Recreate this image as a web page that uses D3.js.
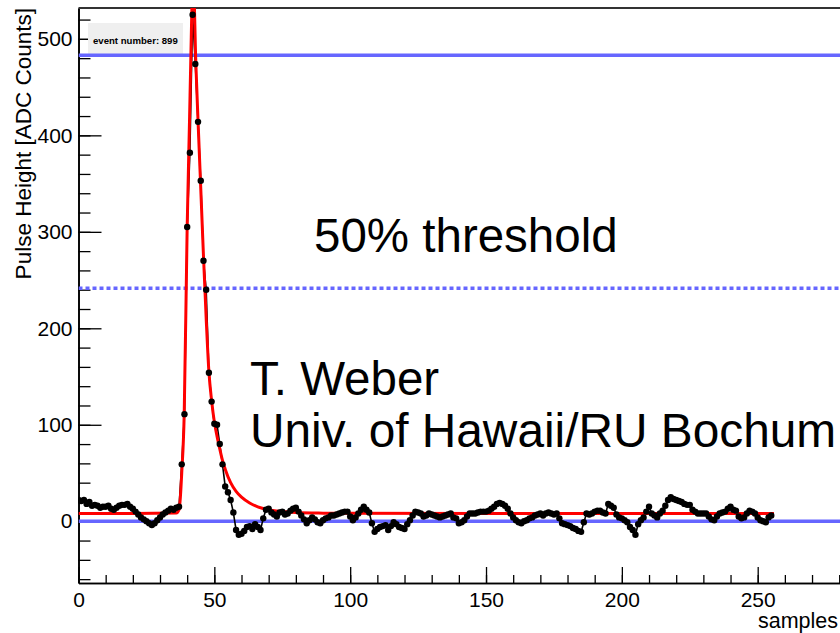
<!DOCTYPE html>
<html>
<head>
<meta charset="utf-8">
<script src="https://cdn.jsdelivr.net/npm/d3@7"></script>
<style>
  body { margin: 0; background: #fff; }
  svg { display: block; font-family: "Liberation Sans", Arial, sans-serif; }
</style>
</head>
<body>
<svg width="840" height="633"></svg>
<script>
// ADC value for every sample 0..255
const adc = [
  22, 21, 22, 18, 20, 16, 17, 16, 14, 15, 15, 16, 13, 12, 14, 16, 17, 17, 18, 15,
  13, 10, 7, 4, 2, 0, -2, -4, -2, 1, 4, 7, 9, 11, 13, 12, 14, 15,
  59, 111, 305, 382, 525, 474, 414, 353, 270, 240, 154, 124, 101, 100, 80, 59, 36, 30, 22,
  9, -9, -14, -13, -10, -6, -5, -8, -3, -6, -9, 3, 12, 13, 9, 7, 5, 9, 10, 7, 8, 11, 13, 14, 10,
  6, 2, -2, 1, 4, 2, -1, -2, 1, 3, 4, 6, 6, 7, 8, 9, 10, 10, 5, 1,
  4, 8, 12, 15, 12, 9, -2, -11, -8, -6, -5, -4, -9, -5, -1, -3, -6, -7, -8, -3,
  1, 6, 10, 9, 8, 5, 6, 8, 7, 6, 5, 4, 5, 6, 7, 8, 4, 3, -2, -1,
  1, 5, 8, 8, 8, 9, 10, 10, 10, 11, 13, 15, 18, 19, 18, 16, 13, 8, 4, 1,
  -1, -2, 0, 1, 3, 4, 6, 7, 8, 6, 8, 9, 8, 7, 8, 3, -2, -3, -4, -5,
  -7, -8, -10, -11, -1, 8, 7, 8, 10, 11, 11, 9, 8, 18, 16, 14, 7, 4, 3, 1,
  -1, -6, -9, -14, -3, 1, 4, 10, 15, 8, 6, 4, 8, 11, 16, 22, 25, 23, 22, 21,
  20, 18, 17, 17, 12, 10, 8, 8, 8, 8, 5, 2, 1, 5, 8, 9, 10, 13, 15, 12,
  11, 5, 3, 4, 8, 11, 10, 8, 4, 1, 0, -1, 4, 6
];

// fitted pulse shape
const fitX = [0, 20, 36, 37, 37.5, 38, 38.9, 40, 40.9, 41.3, 42.2, 43.2, 44, 45, 46, 47, 48, 49, 50, 51, 52, 53, 54, 56, 58, 60, 63, 66, 70, 75, 80, 90, 100, 150, 256];
const fitY = [8, 8, 8.5, 12, 25, 50, 110, 305, 420, 474, 565, 474, 415, 345, 275, 210, 155, 125, 103, 88, 75, 63, 54, 40, 31, 25, 19, 15, 12, 10, 9, 8.4, 8.2, 8, 8];

// threshold lines: amplitude, 50% level, pedestal
const levels = [483, 241.5, 0];
const levelDash = [null, "4,3", null];

const yMajor = [0, 100, 200, 300, 400, 500];
const xMajor = [0, 50, 100, 150, 200, 250];

const svg = d3.select('svg');
const fLeft = 78.5, fTop = 8, fBottom = 583, fRight = 840;
const font = '"Liberation Sans", Arial, sans-serif';

const x = d3.scaleLinear().domain([0, 282]).range([fLeft, fLeft + 282 * 2.7168]);
const y = d3.scaleLinear().domain([-64, 532]).range([fBottom, fTop]);

svg.append('clipPath').attr('id', 'frame')
  .append('rect').attr('x', fLeft).attr('y', fTop)
  .attr('width', fRight - fLeft).attr('height', fBottom - fTop);

// axes, ROOT style ticks pointing inward
svg.append('g')
  .attr('transform', `translate(${fLeft},0)`)
  .call(d3.axisLeft(y).tickValues(d3.range(-60, 531, 20)).tickSize(-12).tickSizeOuter(0).tickFormat(''));
const yAxis = svg.append('g')
  .attr('transform', `translate(${fLeft},0)`)
  .call(d3.axisLeft(y).tickValues(yMajor).tickSize(-23).tickSizeOuter(0).tickPadding(6));

svg.append('g')
  .attr('transform', `translate(0,${fBottom})`)
  .call(d3.axisBottom(x).tickValues(d3.range(0, 281, 10)).tickSize(-8).tickSizeOuter(0).tickFormat(''));
const xAxis = svg.append('g')
  .attr('transform', `translate(0,${fBottom})`)
  .call(d3.axisBottom(x).tickValues(xMajor).tickSize(-16).tickSizeOuter(0).tickPadding(9));

svg.selectAll('.tick line').attr('stroke', '#000').attr('stroke-width', 1.3);
svg.selectAll('.domain').attr('stroke', '#000').attr('stroke-width', 1.6);
yAxis.selectAll('text').attr('font-size', 21).attr('font-family', font).attr('fill', '#000');
xAxis.selectAll('text').attr('font-size', 21).attr('font-family', font).attr('fill', '#000');

// top frame line
svg.append('line')
  .attr('x1', fLeft).attr('x2', fRight)
  .attr('y1', fTop).attr('y2', fTop)
  .attr('stroke', '#333').attr('stroke-width', 2);

// event label box
svg.append('rect')
  .attr('x', 88).attr('y', 23).attr('width', 95).attr('height', 34)
  .attr('fill', '#efefef');
svg.append('text')
  .attr('x', 93).attr('y', 44)
  .attr('font-size', 9.6).attr('font-weight', 'bold')
  .text('event number: 899');

const plot = svg.append('g').attr('clip-path', 'url(#frame)');

// blue threshold lines
plot.selectAll('line.level')
  .data(levels)
  .join('line')
  .attr('class', 'level')
  .attr('x1', fLeft).attr('x2', fRight)
  .attr('y1', d => y(d)).attr('y2', d => y(d))
  .attr('stroke', '#6666ff')
  .attr('stroke-width', 3.5)
  .attr('stroke-dasharray', (d, i) => levelDash[i]);

// data polyline
const samples = adc.map((v, i) => [i, v]);
plot.append('path')
  .datum(samples)
  .attr('fill', 'none')
  .attr('stroke', '#000')
  .attr('stroke-width', 1.6)
  .attr('d', d3.line().x(d => x(d[0])).y(d => y(d[1])));

// fit
plot.append('path')
  .datum(fitX.map((v, i) => [v, fitY[i]]))
  .attr('fill', 'none')
  .attr('stroke', '#ff0000')
  .attr('stroke-width', 3)
  .attr('d', d3.line().curve(d3.curveMonotoneX).x(d => x(d[0])).y(d => y(d[1])));

// data markers
plot.selectAll('circle')
  .data(samples)
  .join('circle')
  .attr('cx', d => x(d[0]))
  .attr('cy', d => y(d[1]))
  .attr('r', 3.2)
  .attr('fill', '#000');

// axis titles
svg.append('text')
  .attr('transform', `translate(31,${fTop}) rotate(-90)`)
  .attr('text-anchor', 'end')
  .attr('font-size', 22.5)
  .text('Pulse Height [ADC Counts]');
svg.append('text')
  .attr('x', 838).attr('y', 628)
  .attr('text-anchor', 'end')
  .attr('font-size', 21.5)
  .text('samples');

// annotations
svg.append('text')
  .attr('x', 314).attr('y', 252)
  .attr('font-size', 47.5)
  .text('50% threshold');
svg.append('text')
  .attr('x', 250).attr('y', 395)
  .attr('font-size', 47.5)
  .text('T. Weber');
svg.append('text')
  .attr('x', 250).attr('y', 447)
  .attr('font-size', 47.8)
  .text('Univ. of Hawaii/RU Bochum');
</script>
</body>
</html>
